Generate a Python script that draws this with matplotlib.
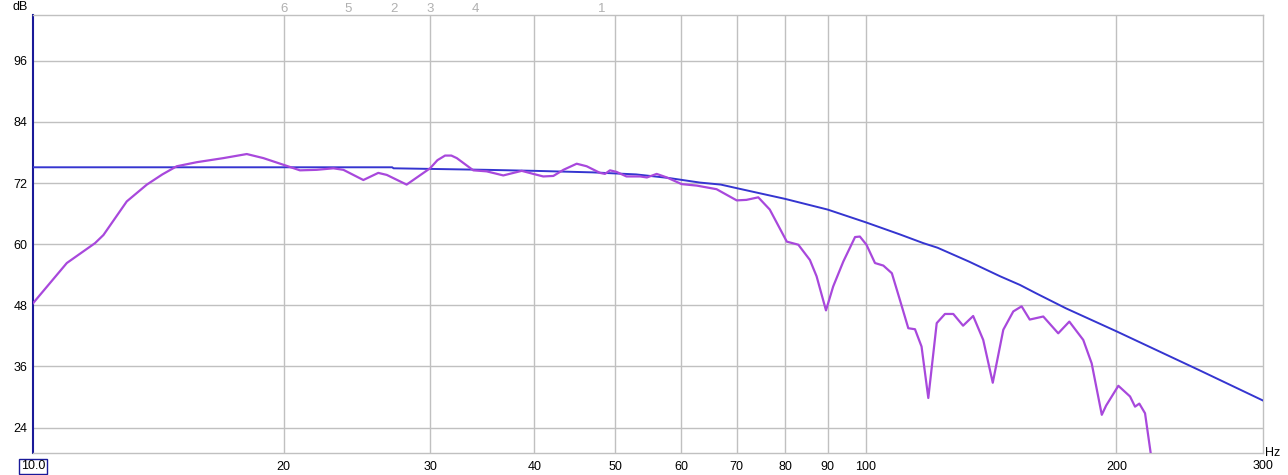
import matplotlib
matplotlib.use("Agg")
import matplotlib.pyplot as plt
from matplotlib.ticker import FixedLocator, NullLocator

# measured response (purple)
meas_hz = [10.0, 10.98, 11.87, 12.15, 12.96, 13.70, 14.3, 14.88, 15.73, 16.93,
           18.06, 18.91, 19.98, 20.92, 21.91, 22.95, 23.59, 24.93, 25.98, 26.6,
           28.1, 29.98, 30.6, 31.25, 31.8, 32.28, 33.79, 35.06, 36.71, 38.63,
           39.88, 41.0, 42.16, 43.35, 44.97, 46.23, 47.96, 48.63, 49.3, 50.2,
           51.6, 53.6, 54.6, 56.1, 57.7, 60.1, 62.7, 66.2, 70.0, 71.9,
           74.3, 76.7, 80.4, 83.0, 85.7, 87.3, 89.6, 91.4, 94.0, 97.1,
           98.4, 100.2, 102.6, 105.0, 107.5, 109.9, 112.5, 114.6, 116.7, 118.9,
           121.7, 124.5, 127.4, 130.9, 134.6, 138.4, 142.1, 146.3, 150.4, 153.9,
           157.4, 163.4, 170.3, 175.6, 182.5, 186.8, 192.1, 194.4, 201.1, 207.7,
           210.6, 213.1, 216.5, 219.9]
meas_db = [48.4, 56.3, 60.2, 61.8, 68.4, 71.7, 73.7, 75.3, 76.1, 76.9,
           77.7, 76.9, 75.6, 74.5, 74.6, 74.9, 74.6, 72.6, 74.0, 73.6,
           71.7, 74.9, 76.5, 77.4, 77.4, 76.9, 74.5, 74.3, 73.5, 74.4,
           73.8, 73.3, 73.4, 74.6, 75.8, 75.3, 74.0, 73.8, 74.5, 74.2,
           73.3, 73.3, 73.1, 73.8, 73.1, 71.8, 71.5, 70.8, 68.6, 68.7,
           69.2, 66.8, 60.5, 59.9, 56.9, 53.7, 47.0, 51.7, 56.6, 61.4,
           61.5, 59.9, 56.3, 55.8, 54.3, 49.1, 43.5, 43.3, 39.9, 29.8,
           44.5, 46.3, 46.3, 44.0, 45.9, 41.2, 32.8, 43.2, 46.8, 47.8,
           45.2, 45.8, 42.5, 44.8, 41.2, 36.6, 26.5, 28.3, 32.2, 30.1,
           28.1, 28.7, 26.8, 19.0]

# target curve (blue)
target_hz = [10.0, 27.0, 27.1, 35.0, 40.0, 47.0, 53.0, 58.0, 63.2, 67.0,
             70.0, 80.0, 90.0, 100.0, 110.0, 117.3, 122.0, 133.0, 145.0, 153.2,
             160.0, 174.0, 200.0, 252.0, 300.0]
target_db = [75.1, 75.1, 74.9, 74.6, 74.4, 74.1, 73.7, 73.0, 72.1, 71.7,
             71.0, 68.9, 66.8, 64.3, 61.9, 60.2, 59.3, 56.6, 53.7, 52.0,
             50.4, 47.4, 42.9, 35.2, 29.3]

# room mode markers along the top
mode_hz = [20.0, 23.9, 27.1, 30.0, 34.0, 48.2]
mode_labels = ["6", "5", "2", "3", "4", "1"]

x_ticks = [20, 30, 40, 50, 60, 70, 80, 90, 100, 200]
x_labels = ["20", "30", "40", "50", "60", "70", "80", "90", "100", "200"]
y_ticks = [24, 36, 48, 60, 72, 84, 96]

plt.rcParams['font.family'] = ['Liberation Sans', 'DejaVu Sans']

W, H = 1288, 475
AX_H = 438
fig = plt.figure(figsize=(W / 100, H / 100), dpi=100)
ax = fig.add_axes([33 / W, (H - 453) / H, 1230 / W, AX_H / H])

ax.set_xscale('log')
ax.set_xlim(10, 300)
ax.set_ylim(19, 105)

ax.xaxis.set_major_locator(FixedLocator(x_ticks))
ax.xaxis.set_minor_locator(NullLocator())
ax.yaxis.set_major_locator(FixedLocator(y_ticks))
ax.set_xticklabels(x_labels)
ax.tick_params(axis='both', length=0, labelsize=9, colors='black')
ax.tick_params(axis='x', pad=6)
ax.tick_params(axis='y', pad=4)
ax.grid(True, color='#c0c0c0', linewidth=1)

for side in ['top', 'right', 'bottom']:
    ax.spines[side].set_color('#c0c0c0')
    ax.spines[side].set_linewidth(1)
ax.spines['left'].set_color('#1a1a99')
ax.spines['left'].set_linewidth(1.5)

ax.plot(target_hz, target_db, color='#3535d0', linewidth=1.4, zorder=3)
ax.plot(meas_hz, meas_db, color='#a848dc', linewidth=1.6, zorder=4)

xtr = ax.get_xaxis_transform()
for f, lab in zip(mode_hz, mode_labels):
    ax.text(f, 1.0 + 6 / AX_H, lab, transform=xtr, ha='center', va='center',
            fontsize=9.5, color='#b0b0b0')

ax.text(-0.004, 1.0 + 8 / AX_H, "dB", transform=ax.transAxes, ha='right',
        va='center', fontsize=9)
ax.text(1.002, 0.0, "Hz", transform=ax.transAxes, ha='left', va='center',
        fontsize=9)
ax.text(10, -13 / AX_H, "10.0", transform=xtr, ha='center', va='center',
        fontsize=9,
        bbox=dict(boxstyle='square,pad=0.12', fc='white', ec='#1a1a99', lw=1))
ax.text(300, -13 / AX_H, "300", transform=xtr, ha='center', va='center',
        fontsize=9)

fig.savefig('out.png', dpi=100)
